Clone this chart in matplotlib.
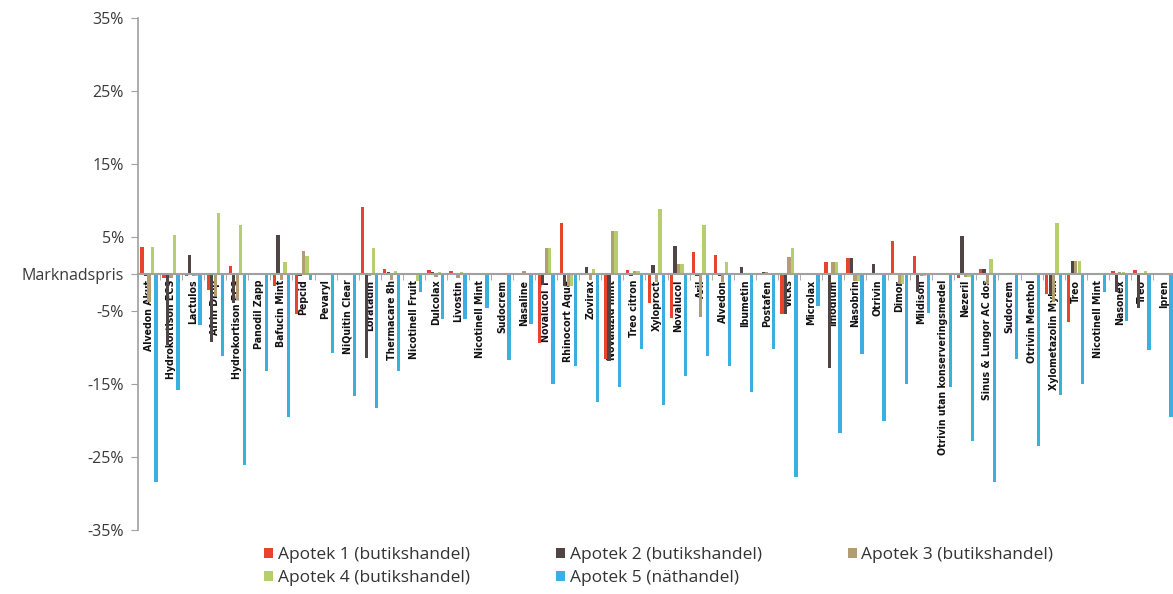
import numpy as np
import matplotlib
matplotlib.use("Agg")
import matplotlib.pyplot as plt

categories = [
    "Alvedon Akut", "Hydrokortison ECS", "Lactulos", "Afrin Drop", "Hydrokortison ECS",
    "Panodil Zapp", "Bafucin Mint", "Pepcid", "Pevaryl", "NiQuitin Clear",
    "Loratadin", "Thermacare 8h", "Nicotinell Fruit", "Dulcolax", "Livostin",
    "Nicotinell Mint", "Sudocrem", "Nasaline", "Novalucol T", "Rhinocort Aqua",
    "Zovirax", "Novaluzid mint", "Treo citron", "Xyloproct", "Novalucol",
    "Aril", "Alvedon", "Ibumetin", "Postafen", "Vicks",
    "Microlax", "Imodium", "Nasobrin", "Otrivin", "Dimor",
    "Mildison", "Otrivin utan konserveringsmedel", "Nezeril", "Sinus & Lungor AC dos", "Sudocrem",
    "Otrivin Menthol", "Xylometazolin Mylan", "Treo", "Nicotinell Mint", "Nasonex",
    "Treo", "Ipren",
]

series_names = [
    "Apotek 1 (butikshandel)",
    "Apotek 2 (butikshandel)",
    "Apotek 3 (butikshandel)",
    "Apotek 4 (butikshandel)",
    "Apotek 5 (näthandel)",
]

apotek1 = [3.7, -0.5, -0.3, -2.2, 1.1, -0.2, -1.7, -5.5, -0.2, -0.1,
           9.2, 0.7, 0.2, 0.5, 0.4, -0.1, -0.1, -0.2, -9.5, 7.0,
           -0.1, -11.6, 0.5, -3.9, -6.0, 3.0, 2.6, -0.1, -0.2, -5.5,
           -0.1, 1.6, 2.2, -0.2, 4.5, 2.4, -0.1, -0.5, 0.7, -0.1,
           -0.1, -2.7, -6.6, -0.1, 0.4, 0.5, -0.1]
apotek2 = [-0.3, -9.7, 2.6, -9.3, -4.0, -0.2, 5.3, -0.3, -0.1, -0.1,
           -11.5, 0.3, 0.2, 0.3, 0.2, -0.1, -0.1, 0.1, -1.5, -1.6,
           0.9, -11.9, -0.3, 1.2, 3.8, -0.3, -0.3, 1.0, 0.3, -5.5,
           -0.1, -12.9, 2.2, 1.3, -0.1, -2.5, -0.1, 5.2, 0.7, -0.1,
           -0.1, -2.7, 1.8, -0.1, -2.4, -4.7, -0.1]
apotek3 = [-3.8, -0.5, -0.3, -3.0, -3.5, -0.2, -0.8, 3.2, -0.1, -0.1,
           -0.3, -0.8, 0.2, -0.4, -0.5, -0.1, -0.1, 0.4, 3.5, -1.6,
           -0.8, 5.9, 0.4, -1.1, 1.4, -5.9, -1.1, -0.1, 0.3, 2.3,
           -0.1, 1.6, -1.0, -0.1, -1.4, -0.3, -0.1, -0.4, -1.4, -0.1,
           -0.1, -3.8, 1.8, -0.1, 0.3, 0.1, -0.1]
apotek4 = [3.7, 5.4, -0.3, 8.4, 6.7, -0.2, 1.7, 2.4, -0.1, -0.1,
           3.5, 0.4, -1.0, 0.3, 0.3, -0.1, -0.1, 0.1, 3.5, -1.7,
           0.7, 5.9, 0.4, 8.9, 1.4, 6.7, 1.7, -0.1, 0.2, 3.6,
           -0.1, 1.6, -1.0, -0.1, -1.4, -0.3, -0.1, -0.4, 2.1, -0.1,
           -0.1, 7.0, 1.8, -0.1, 0.3, 0.4, -0.1]
apotek5 = [-28.4, -15.9, -7.0, -11.2, -26.1, -13.2, -19.6, -0.8, -10.8, -16.7,
           -18.3, -13.2, -2.4, -6.2, -6.2, -4.7, -11.7, -6.8, -15.0, -12.6,
           -17.5, -15.5, -10.3, -17.9, -14.0, -11.2, -12.6, -16.2, -10.3, -27.7,
           -4.4, -21.8, -10.9, -20.1, -15.1, -5.3, -15.4, -22.8, -28.4, -11.6,
           -23.5, -16.5, -15.1, -2.4, -6.4, -10.4, -19.5]

ytick_values = [35, 25, 15, 5, 0, -5, -15, -25, -35]
ytick_labels = ["35%", "25%", "15%", "5%", "Marknadspris", "-5%", "-15%", "-25%", "-35%"]

colors = ["#e8432c", "#4f4545", "#b49c74", "#b6cf6c", "#3bafe0"]

W, H = 1173, 594
fig = plt.figure(figsize=(W / 100, H / 100), dpi=100)
left, right, top, bottom = 138, 1175, 18, 530
ax = fig.add_axes([left / W, 1 - bottom / H, (right - left) / W, (bottom - top) / H])

x = np.arange(len(categories))
step = 0.158
bars = []
for k, (vals, col, name) in enumerate(zip([apotek1, apotek2, apotek3, apotek4, apotek5],
                                          colors, series_names)):
    b = ax.bar(x + (k - 2) * step, vals, width=0.15, color=col, label=name, zorder=2)
    bars.append(b)

ax.set_xlim(-0.5, len(categories) - 0.5)
ax.set_ylim(-35, 35)

for s in ["top", "right"]:
    ax.spines[s].set_visible(False)
ax.spines["bottom"].set_position(("data", 0))
ax.spines["bottom"].set_color("#a0a0a0")
ax.spines["bottom"].set_linewidth(1.5)
ax.spines["bottom"].set_zorder(3)
ax.spines["left"].set_color("#a0a0a0")
ax.spines["left"].set_linewidth(1.2)

ax.set_xticks(x)
ax.set_xticklabels(categories, rotation=90, fontsize=7.6, fontweight="bold",
                   fontstretch="condensed", family=["DejaVu Sans"], color="#111111")
ax.tick_params(axis="x", which="major", length=0, pad=4)
ax.set_xticks(np.arange(-0.5, len(categories), 1), minor=True)
ax.tick_params(axis="x", which="minor", length=4, color="#a0a0a0", direction="out")

ax.set_yticks(ytick_values)
ax.set_yticklabels(ytick_labels, fontsize=11.5, family=["Open Sans", "DejaVu Sans"], color="#3a3a3a")
ax.tick_params(axis="y", length=5, color="#a0a0a0", pad=5)

handles = [bars[i] for i in [0, 3, 1, 4, 2]]
labels = [series_names[i] for i in [0, 3, 1, 4, 2]]
fig.legend(handles, labels, loc="upper left", bbox_to_anchor=(257 / W, 1 - 540 / H),
           ncol=3, frameon=False, handlelength=0.55, handleheight=0.55, handletextpad=0.25,
           columnspacing=4.95, labelspacing=0.4, borderaxespad=0,
           prop={"family": ["Open Sans", "DejaVu Sans"], "size": 12.5}, labelcolor="#333333")

fig.savefig("out.png", dpi=100)
